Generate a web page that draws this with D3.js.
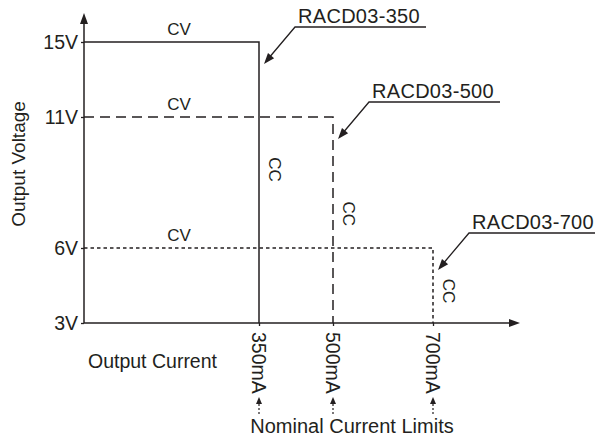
<!DOCTYPE html>
<html>
<head>
<meta charset="utf-8">
<script src="https://cdn.jsdelivr.net/npm/d3@7"></script>
<style>
  body { margin: 0; background: #fff; }
  text { font-family: Arial, "Liberation Sans", Helvetica, sans-serif; fill: #231f20; }
</style>
</head>
<body>
<div id="chart"></div>
<script>
// values
var models = ["RACD03-350", "RACD03-500", "RACD03-700"];
var currentLimits = [350, 500, 700];      // mA
var outputVoltages = [15, 11, 6];         // V
var minVoltage = 3;
var voltageTicks = [3, 6, 11, 15];
var currentTicks = [350, 500, 700];
var lineDashes = [null, "10,6", "3.5,3"];

var svgWidth = 595;
var svgHeight = 438;
var ink = "#231f20";

var svg = d3.select("#chart")
    .append("svg")
    .attr("width", svgWidth)
    .attr("height", svgHeight);

// the drawing is not to scale, so both scales are piecewise
var x = d3.scaleLinear().domain([0, 350, 500, 700]).range([84, 259, 333, 433]);
var y = d3.scaleLinear().domain([3, 6, 11, 15]).range([323, 248, 117, 42]);

var x0 = x(0), yBase = y(minVoltage);
var xEnd = 520, yTop = 13;

// arrowhead helper: tip point and the point it comes from
function arrowHead(g, tip, from, len, half) {
    var dx = tip[0] - from[0], dy = tip[1] - from[1];
    var d = Math.sqrt(dx * dx + dy * dy);
    var ux = dx / d, uy = dy / d;
    var bx = tip[0] - ux * len, by = tip[1] - uy * len;
    g.append("path")
        .attr("d", "M" + tip + "L" + [bx - uy * half, by + ux * half] + "L" + [bx + uy * half, by - ux * half] + "Z")
        .attr("fill", ink);
}

// axis lines with arrows
svg.append("line").attr("x1", x0).attr("y1", yBase).attr("x2", x0).attr("y2", yTop + 6)
    .attr("stroke", ink).attr("stroke-width", 1.5);
arrowHead(svg, [x0, yTop], [x0, yBase], 11, 4);
svg.append("line").attr("x1", x0).attr("y1", yBase).attr("x2", xEnd - 6).attr("y2", yBase)
    .attr("stroke", ink).attr("stroke-width", 1.5);
arrowHead(svg, [xEnd, yBase], [x0, yBase], 11, 4);

// y ticks
var yAxis = svg.append("g")
    .attr("transform", "translate(" + x0 + ",0)")
    .call(d3.axisLeft(y).tickValues(voltageTicks).tickSize(3).tickPadding(3)
        .tickFormat(function (d) { return d + "V"; }));
yAxis.select(".domain").remove();
yAxis.selectAll("line").attr("stroke", ink).attr("stroke-width", 1.3);
yAxis.selectAll("text").style("font-size", "19.5px").attr("fill", ink);

// x ticks, labels rotated
var xAxis = svg.append("g")
    .attr("transform", "translate(0," + yBase + ")")
    .call(d3.axisBottom(x).tickValues(currentTicks).tickSize(3)
        .tickFormat(function (d) { return d + "mA"; }));
xAxis.select(".domain").remove();
xAxis.selectAll("line").attr("stroke", ink).attr("stroke-width", 1.3);
xAxis.selectAll("text")
    .attr("transform", "rotate(90)")
    .attr("x", 9).attr("y", 0).attr("dy", "0.36em")
    .attr("text-anchor", "start")
    .style("font-size", "19.5px").attr("fill", ink);

// small dotted arrows under the current labels
currentTicks.forEach(function (c) {
    svg.append("line")
        .attr("x1", x(c)).attr("x2", x(c)).attr("y1", 414).attr("y2", 403)
        .attr("stroke", ink).attr("stroke-width", 1.2).attr("stroke-dasharray", "2,2");
    arrowHead(svg, [x(c), 397], [x(c), 414], 7, 3);
});

// characteristic curves
var line = d3.line().x(function (d) { return x(d[0]); }).y(function (d) { return y(d[1]); });

models.forEach(function (m, i) {
    var I = currentLimits[i], V = outputVoltages[i];
    svg.append("path")
        .attr("d", line([[0, V], [I, V], [I, minVoltage]]))
        .attr("fill", "none")
        .attr("stroke", ink)
        .attr("stroke-width", 1.5)
        .attr("stroke-dasharray", lineDashes[i]);

    // CV label
    svg.append("text")
        .attr("x", x(190)).attr("y", y(V) - 7)
        .attr("text-anchor", "middle")
        .style("font-size", "17px")
        .text("CV");

    // CC label
    var ccTop = y(V) + 0.41 * (yBase - y(V));
    svg.append("text")
        .attr("transform", "translate(" + (x(I) + 16) + "," + ccTop + ") rotate(90)")
        .attr("dy", "0.36em")
        .style("font-size", "17px")
        .text("CC");

    // model callout
    var tip = [x(I) + 5, y(V) + 22];
    var knee = [tip[0] + 31, tip[1] - 37];
    svg.append("path")
        .attr("d", "M" + [knee[0] + 131, knee[1]] + "L" + knee + "L" + [tip[0] + 4, tip[1] - 5])
        .attr("fill", "none").attr("stroke", ink).attr("stroke-width", 1.3);
    arrowHead(svg, tip, knee, 11, 4);
    svg.append("text")
        .attr("x", knee[0] + 3).attr("y", knee[1] - 4)
        .style("font-size", "20px")
        .style("letter-spacing", "0.3px")
        .text(m);
});

// axis titles
svg.append("text")
    .attr("transform", "translate(25,164) rotate(-90)")
    .attr("text-anchor", "middle")
    .style("font-size", "19px")
    .text("Output Voltage");

svg.append("text")
    .attr("x", 88).attr("y", 368)
    .style("font-size", "19.5px")
    .text("Output Current");

svg.append("text")
    .attr("x", 352).attr("y", 433)
    .attr("text-anchor", "middle")
    .style("font-size", "20px")
    .text("Nominal Current Limits");
</script>
</body>
</html>
